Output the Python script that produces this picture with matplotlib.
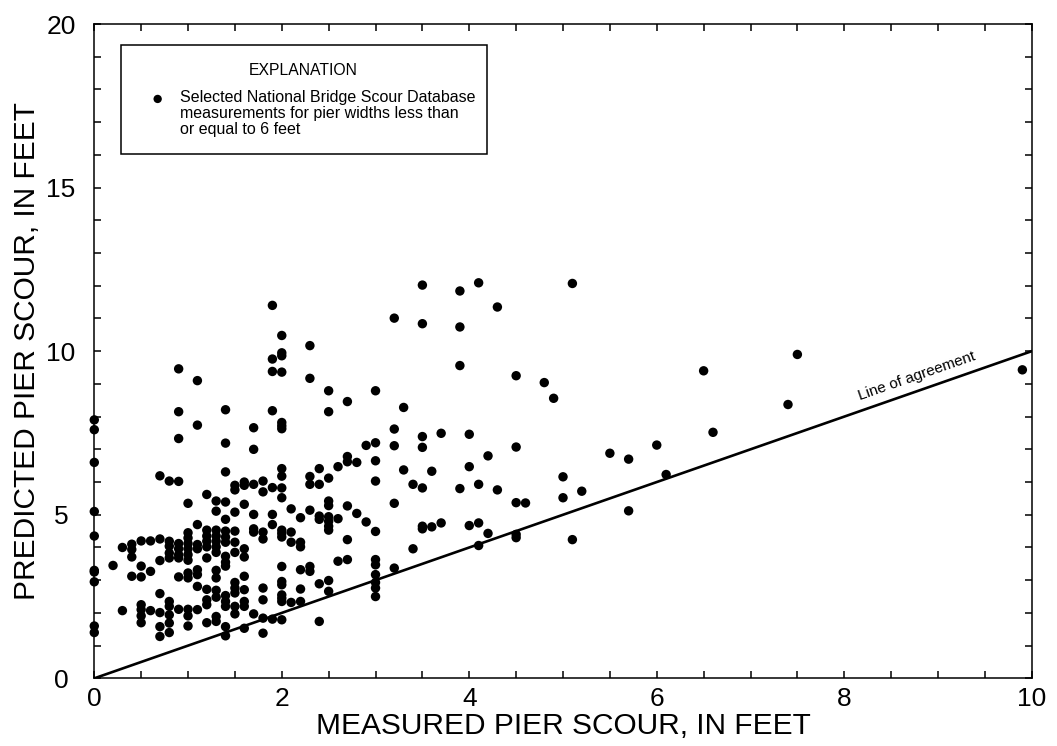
import numpy as np
import matplotlib
matplotlib.use('Agg')
import matplotlib.pyplot as plt
from matplotlib.patches import Rectangle
from matplotlib.ticker import MultipleLocator

plt.rcParams['font.family'] = ['Liberation Sans', 'DejaVu Sans']

# measured pier scour (ft), one line per measured value
measured = (
    [0.0] * 10 + [0.2] + [0.3] * 2 + [0.4] * 4 + [0.5] * 7 + [0.6] * 3 +
    [0.7] * 7 + [0.8] * 10 + [0.9] * 10 + [1.0] * 12 + [1.1] * 9 +
    [1.2] * 10 + [1.3] * 13 + [1.4] * 16 + [1.5] * 11 + [1.6] * 10 +
    [1.7] * 7 + [1.8] * 8 + [1.9] * 8 + [2.0] * 21 + [2.1] * 4 + [2.2] * 6 +
    [2.3] * 7 + [2.4] * 6 + [2.5] * 11 + [2.6] * 3 + [2.7] * 6 + [2.8] * 2 +
    [2.9] * 2 + [3.0] * 11 + [3.2] * 5 + [3.3] * 2 + [3.4] * 2 + [3.5] * 7 +
    [3.6] * 2 + [3.7] * 2 + [3.9] * 4 + [4.0] * 3 + [4.1] * 4 + [4.2] * 2 +
    [4.3] * 2 + [4.5] * 5 + [4.6] + [4.8] + [4.9] + [5.0] * 2 + [5.1] * 2 +
    [5.2] + [5.5] + [5.7] * 2 + [6.0] + [6.1] + [6.5] + [6.6] + [7.4] +
    [7.5] + [9.9]
)

# predicted pier scour (ft), same order
predicted = [
    7.9, 7.6, 6.6, 5.1, 4.35, 3.3, 3.25, 2.95, 1.6, 1.4,
    3.45,
    4.0, 2.07,
    4.1, 3.94, 3.71, 3.12,
    4.2, 3.43, 3.1, 2.25, 2.1, 1.91, 1.7,
    4.2, 3.27, 2.07,
    6.19, 4.26, 3.6, 2.59, 2.01, 1.58, 1.28,
    6.03, 4.19, 4.04, 3.83, 3.68, 2.35, 2.2, 1.94, 1.69, 1.4,
    9.46, 8.15, 7.33, 6.02, 4.12, 3.96, 3.78, 3.68, 3.10, 2.11,
    5.35, 4.45, 4.29, 4.12, 3.96, 3.78, 3.61, 3.22, 3.07, 2.11, 1.91, 1.6,
    9.1, 7.74, 4.7, 4.09, 3.96, 3.32, 3.17, 2.81, 2.1,
    5.62, 4.53, 4.35, 4.19, 4.02, 3.68, 2.72, 2.4, 2.25, 1.7,
    5.42, 5.11, 4.53, 4.35, 4.19, 4.02, 3.85, 3.3, 3.07, 2.69, 2.48, 1.89, 1.74,
    8.21, 7.19, 6.31, 5.39, 4.86, 4.5, 4.32, 4.16, 3.73, 3.55, 3.43, 2.53, 2.35, 2.2, 1.58, 1.3,
    5.9, 5.76, 5.08, 4.5, 4.16, 3.85, 2.93, 2.76, 2.61, 2.2, 1.97,
    6.0, 5.9, 5.32, 3.96, 3.71, 3.12, 2.71, 2.35, 2.2, 1.53,
    7.66, 7.0, 5.93, 5.01, 4.57, 4.47, 1.97,
    6.03, 5.7, 4.47, 4.26, 2.76, 2.4, 1.84, 1.38,
    11.4, 9.76, 9.38, 8.18, 5.83, 5.01, 4.7, 1.81,
    10.48, 9.95, 9.86, 9.36, 7.82, 7.72, 7.63, 6.41, 6.18, 5.82, 5.52,
    4.53, 4.43, 4.32, 3.42, 2.96, 2.86, 2.55, 2.45, 2.35, 1.79,
    5.18, 4.47, 4.16, 2.32,
    4.91, 4.16, 4.02, 3.32, 2.73, 2.35,
    10.17, 9.17, 6.17, 5.93, 5.14, 3.42, 3.27,
    6.41, 5.93, 4.96, 4.86, 2.89, 1.74,
    8.79, 8.15, 6.12, 5.42, 5.28, 4.94, 4.8, 4.65, 4.53, 2.99, 2.66,
    6.47, 4.88, 3.58,
    8.46, 6.78, 6.62, 5.27, 4.24, 3.63,
    6.6, 5.04,
    7.12, 4.78,
    8.79, 7.2, 6.65, 6.03, 4.49, 3.63, 3.47, 3.17, 2.93, 2.76, 2.5,
    11.01, 7.62, 7.11, 5.35, 3.37,
    8.28, 6.37,
    5.93, 3.96,
    12.02, 10.84, 7.39, 7.06, 5.82, 4.65, 4.57,
    6.33, 4.63,
    7.49, 4.75,
    11.84, 10.74, 9.56, 5.8,
    7.46, 6.47, 4.67,
    12.09, 5.93, 4.75, 4.06,
    6.8, 4.43,
    11.35, 5.76,
    9.25, 7.07, 5.37, 4.4, 4.3,
    5.36,
    9.04,
    8.56,
    6.16, 5.52,
    12.07, 4.24,
    5.72,
    6.88,
    6.7, 5.12,
    7.13,
    6.23,
    9.4,
    7.52,
    8.37,
    9.9,
    9.43,
]

agreement = [0, 10]

fig = plt.figure(figsize=(10.57, 7.46), dpi=100)
ax = fig.add_axes([0.0892, 0.0907, 0.8869, 0.8771])

ax.plot(agreement, agreement, color='black', lw=1.9, zorder=2)
ax.scatter(measured, predicted, s=46, color='black', edgecolors='none', zorder=3, clip_on=False)

ax.set_xlim(0, 10)
ax.set_ylim(0, 20)
ax.xaxis.set_major_locator(MultipleLocator(2))
ax.xaxis.set_minor_locator(MultipleLocator(0.5))
ax.yaxis.set_major_locator(MultipleLocator(5))
ax.yaxis.set_minor_locator(MultipleLocator(1))
ax.tick_params(which='both', direction='in', top=True, right=True, length=5, width=1.1)
ax.tick_params(axis='x', labelsize=19, pad=6)
ax.tick_params(axis='y', labelsize=19, pad=24)
for lab in ax.get_yticklabels():
    lab.set_horizontalalignment('center')
for sp in ax.spines.values():
    sp.set_linewidth(1.1)

ax.set_xlabel('MEASURED PIER SCOUR, IN FEET', fontsize=21.5, labelpad=1)
ax.set_ylabel('PREDICTED PIER SCOUR, IN FEET', fontsize=21.5, labelpad=4)

ax.text(8.77, 9.25, 'Line of agreement', fontsize=11, rotation=19.2,
        ha='center', va='center', rotation_mode='anchor')

# explanation box
ax.add_patch(Rectangle((0.29, 16.02), 3.9, 3.33, fill=False, lw=1.1,
                       edgecolor='black', zorder=4))
ax.text(2.23, 18.58, 'EXPLANATION', fontsize=11.3, ha='center', va='center')
ax.scatter([0.676], [17.71], s=36, color='black', edgecolors='none')
ax.text(0.916, 17.99, 'Selected National Bridge Scour Database\n'
        'measurements for pier widths less than\nor equal to 6 feet',
        fontsize=11.5, ha='left', va='top', linespacing=1.08)

fig.savefig('out.png', dpi=100)
